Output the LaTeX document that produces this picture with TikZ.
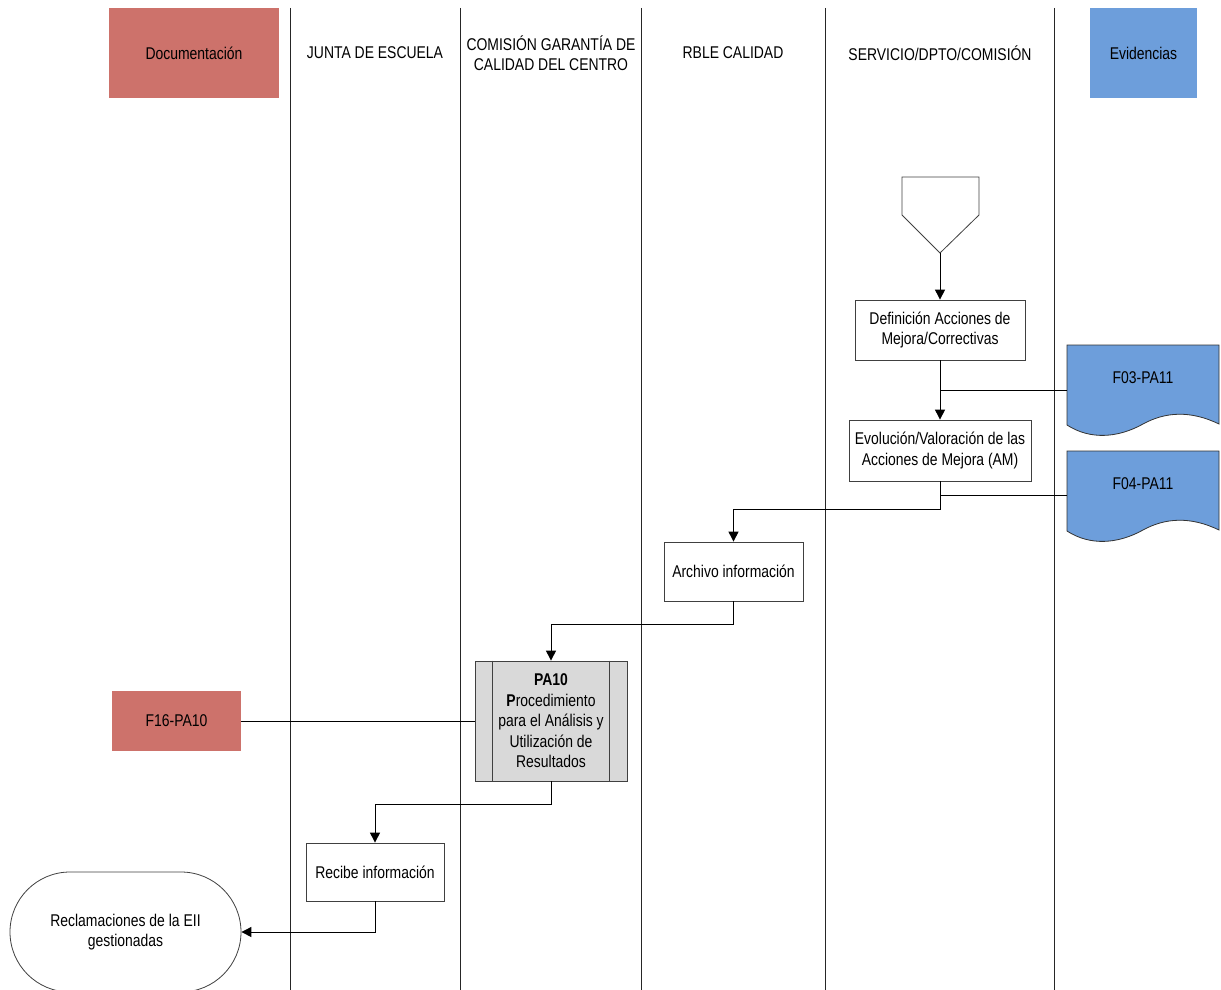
\documentclass[tikz,border=0pt]{standalone}
\usepackage{fontspec}
\setmainfont[FakeStretch=0.82]{Liberation Sans}
\usetikzlibrary{arrows.meta,shapes.misc}
\definecolor{rojodoc}{RGB}{205,114,107}
\definecolor{azulevi}{RGB}{109,158,219}
\definecolor{grisproc}{RGB}{217,217,217}

\begin{document}
\begin{tikzpicture}[%
      x=1pt, y=-1pt,
      font=\fontsize{17}{20.5}\selectfont,
      carril/.style={draw=black!85, line width=1pt},
      cabecera/.style={align=center},
      proceso/.style={draw=black!75, line width=0.8pt, fill=white, align=center, inner sep=0pt},
      evidencia/.style={draw=black!80, fill=azulevi, line width=0.8pt},
      flecha/.style={line width=1pt, -{Triangle[length=10pt,width=10pt]}},
      enlace/.style={line width=1pt},
      ]
      \useasboundingbox (0,0) rectangle (1221,990);

      \node[fill=rojodoc, minimum width=170pt, minimum height=90pt] (documentacion) at (194,53) {Documentación};
      \node[fill=azulevi, minimum width=107pt, minimum height=90pt] (evidencias) at (1143.5,53) {Evidencias};
      \node[cabecera] (junta) at (375,53) {JUNTA DE ESCUELA};
      \node[cabecera] (comision) at (551,53) {COMISIÓN GARANTÍA DE\\CALIDAD DEL CENTRO};
      \node[cabecera] (rble) at (733,53) {RBLE CALIDAD};
      \node[cabecera] (servicio) at (940,53) {SERVICIO/DPTO/COMISIÓN};

      \foreach \x in {290,460,641,825,1054}
        \draw[carril] (\x,8) -- (\x,990);

      \draw[draw=black!75, line width=0.8pt, fill=white] (902,177) -- (979,177) -- (979,215) -- (940,253) -- (902,215) -- cycle;
      \coordinate (conector) at (940,253);

      \node[proceso, minimum width=170pt, minimum height=60pt] (definicion) at (940,330) {Definición Acciones de\\Mejora/Correctivas};
      \node[proceso, minimum width=182pt, minimum height=61pt] (evolucion) at (940,450.5) {Evolución/Valoración de las\\Acciones de Mejora (AM)};
      \node[proceso, minimum width=139pt, minimum height=59pt] (archivo) at (733.5,571.5) {Archivo información};
      \node[proceso, fill=grisproc, minimum width=152pt, minimum height=120pt] (pa10) at (551,721) {\textbf{PA10}\\\textbf{P}rocedimiento\\para el Análisis y\\Utilización de\\Resultados};
      \draw[draw=black!75, line width=0.8pt] ([xshift=18pt]pa10.north west) -- ([xshift=18pt]pa10.south west);
      \draw[draw=black!75, line width=0.8pt] ([xshift=-18pt]pa10.north east) -- ([xshift=-18pt]pa10.south east);
      \node[fill=rojodoc, minimum width=129pt, minimum height=60pt] (f16) at (176.5,721) {F16-PA10};
      \node[proceso, minimum width=138pt, minimum height=58pt] (recibe) at (375,872) {Recibe información};
      \node[proceso, rounded rectangle, minimum width=231pt, minimum height=120pt] (reclamaciones) at (125.5,932) {Reclamaciones de la EII\\gestionadas};

      \draw[evidencia] (1067,345) -- (1219,345) -- (1219,424) .. controls (1190,410) and (1165,412) .. (1143,424) .. controls (1118,438) and (1090,440) .. (1067,425) -- cycle;
      \node (f03) at (1143,378) {F03-PA11};
      \coordinate (f03in) at (1067,390);
      \draw[evidencia] (1067,451) -- (1219,451) -- (1219,530) .. controls (1190,516) and (1165,518) .. (1143,530) .. controls (1118,544) and (1090,546) .. (1067,531) -- cycle;
      \node (f04) at (1143,484) {F04-PA11};
      \coordinate (f04in) at (1067,495);

      \draw[flecha] (conector) -- (definicion);
      \draw[flecha] (definicion) -- (evolucion);
      \draw[enlace] (f03in) -- (f03in -| definicion.south);
      \draw[enlace] (f04in) -- (f04in -| evolucion.south);
      \draw[flecha] (evolucion.south) -- ++(0,28) -| (archivo.north);
      \draw[flecha] (archivo.south) -- ++(0,23) -| (pa10.north);
      \draw[enlace] (f16) -- (pa10);
      \draw[flecha] (pa10.south) -- ++(0,23) -| (recibe.north);
      \draw[flecha] (recibe.south) |- (reclamaciones.east);
      \end{tikzpicture}
\end{document}
